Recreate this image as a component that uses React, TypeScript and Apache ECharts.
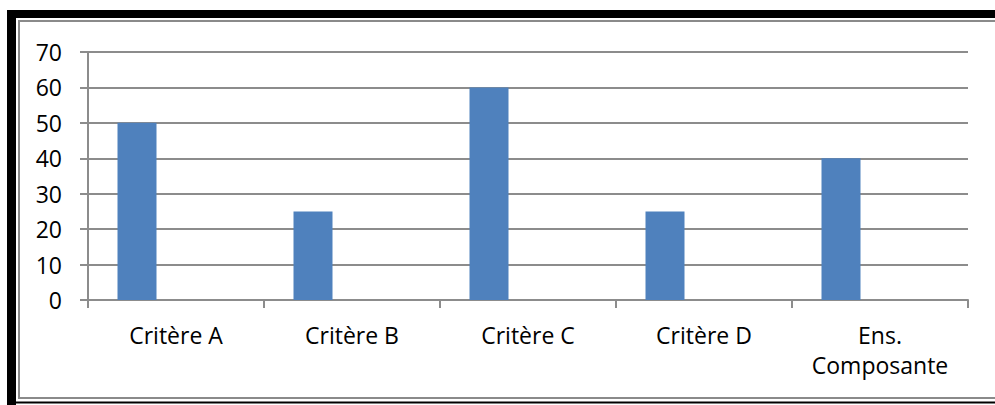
import React, { useEffect, useRef } from "react";
import * as echarts from "echarts";

const categories = ["Critère A", "Critère B", "Critère C", "Critère D", "Ens.\nComposante"];
const seriesMain = [50, 25, 60, 25, 40];
const seriesEmpty1: (number | null)[] = [null, null, null, null, null];
const seriesEmpty2: (number | null)[] = [null, null, null, null, null];
const yTicks = { min: 0, max: 70, interval: 10 };

export default function App() {
  const ref = useRef<HTMLDivElement>(null);
  useEffect(() => {
    const chart = echarts.init(ref.current!, null, { renderer: "svg" });
    const font = "'Open Sans', 'Noto Sans', sans-serif";
    chart.setOption({
      animation: false,
      backgroundColor: "#ffffff",
      grid: { left: 88, right: 27, top: 52, bottom: 105, containLabel: false },
      xAxis: {
        type: "category",
        data: categories,
        axisLine: { show: true, lineStyle: { color: "#8c8c8c", width: 2 } },
        axisTick: { show: true, length: 8, lineStyle: { color: "#8c8c8c", width: 2 } },
        axisLabel: { color: "#000", fontSize: 23, fontFamily: font, margin: 20, lineHeight: 30, interval: 0 },
      },
      yAxis: {
        type: "value",
        min: yTicks.min,
        max: yTicks.max,
        interval: yTicks.interval,
        axisLine: { show: true, lineStyle: { color: "#8c8c8c", width: 2 } },
        axisTick: { show: true, length: 8, lineStyle: { color: "#8c8c8c", width: 2 } },
        axisLabel: { color: "#000", fontSize: 23, fontFamily: font, margin: 26 },
        splitLine: { show: true, lineStyle: { color: "#8c8c8c", width: 2 } },
      },
      series: [
        { type: "bar", data: seriesMain, barWidth: 39, barGap: "0%", itemStyle: { color: "#4f81bd" } },
        { type: "bar", data: seriesEmpty1, barWidth: 39, barGap: "0%", itemStyle: { color: "#c0504d" } },
        { type: "bar", data: seriesEmpty2, barWidth: 39, barGap: "0%", itemStyle: { color: "#9bbb59" } },
      ],
      graphic: [
        { type: "rect", shape: { x: 7, y: 10, width: 988, height: 8 }, style: { fill: "#000" }, silent: true },
        { type: "rect", shape: { x: 7, y: 10, width: 9, height: 395 }, style: { fill: "#000" }, silent: true },
        { type: "line", shape: { x1: 18, y1: 21, x2: 995, y2: 21 }, style: { stroke: "#8a8a8a", lineWidth: 2 }, silent: true },
        { type: "line", shape: { x1: 19, y1: 20, x2: 19, y2: 399 }, style: { stroke: "#8a8a8a", lineWidth: 2 }, silent: true },
        { type: "line", shape: { x1: 18, y1: 398, x2: 995, y2: 398 }, style: { stroke: "#8a8a8a", lineWidth: 2 }, silent: true },
        { type: "line", shape: { x1: 16, y1: 402.5, x2: 995, y2: 402.5 }, style: { stroke: "#000", lineWidth: 2 }, silent: true },
      ],
    });
    return () => chart.dispose();
  }, []);
  return <div ref={ref} style={{ position: "fixed", left: 0, top: 0, width: 995, height: 405 }} />;
}
